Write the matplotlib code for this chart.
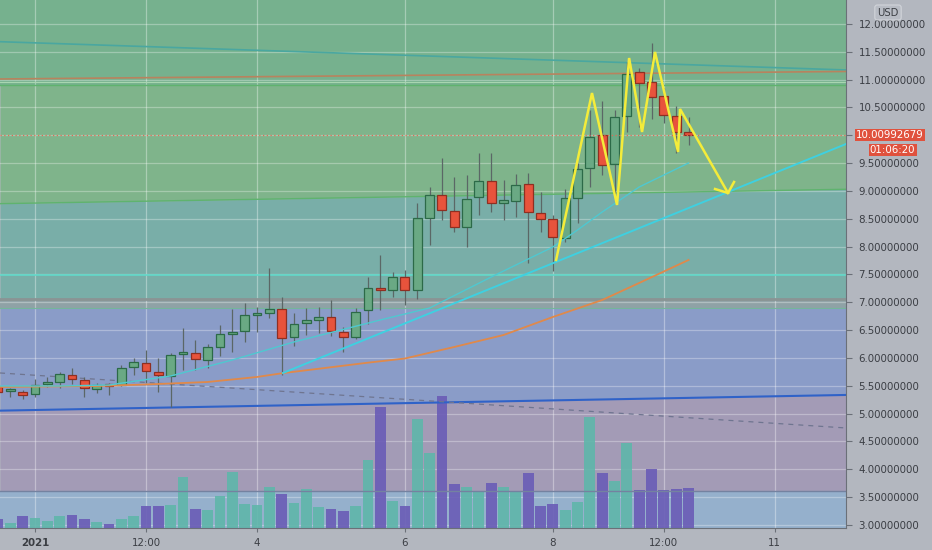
import matplotlib
matplotlib.use("Agg")
import matplotlib.pyplot as plt

# 4h candles, index 0 = 2021-01-01 00:00
idx = list(range(-3, 54))
opens = [5.474, 5.410, 5.389, 5.348, 5.528, 5.575, 5.700, 5.610, 5.443, 5.521,
         5.521, 5.833, 5.916, 5.749, 5.668, 6.065, 6.090, 5.964, 6.192, 6.437,
         6.480, 6.778, 6.803, 6.875, 6.372, 6.629, 6.677, 6.742, 6.473, 6.383,
         6.857, 7.234, 7.222, 7.461, 7.222, 8.510, 8.928, 8.635, 8.348, 8.898,
         9.185, 8.785, 8.820, 9.120, 8.610, 8.497, 8.150, 8.880, 9.413, 10.011,
         9.485, 10.347, 11.132, 10.953, 10.701, 10.342, 10.054]
highs = [5.515, 5.456, 5.425, 5.618, 5.664, 5.754, 5.815, 5.664, 5.546, 5.546,
         5.874, 5.995, 6.144, 5.995, 6.085, 6.534, 6.324, 6.252, 6.593, 6.875,
         6.983, 6.922, 7.611, 7.091, 6.803, 6.893, 6.922, 7.042, 6.562, 6.893,
         7.450, 7.850, 7.540, 7.581, 8.779, 9.077, 9.587, 9.246, 9.287, 9.677,
         9.677, 9.198, 9.305, 9.318, 8.977, 8.569, 9.031, 9.498, 10.455, 10.622,
         10.455, 11.323, 11.204, 11.664, 10.845, 10.527, 10.335]
lows = [5.336, 5.294, 5.258, 5.305, 5.474, 5.456, 5.533, 5.305, 5.377, 5.336,
        5.497, 5.695, 5.557, 5.395, 5.125, 5.785, 5.785, 5.815, 6.042, 6.113,
        6.293, 6.473, 6.713, 5.695, 6.216, 6.413, 6.455, 6.395, 6.113, 6.336,
        6.611, 6.862, 7.091, 6.952, 7.055, 8.030, 8.479, 8.269, 7.989, 8.569,
        8.628, 8.479, 8.528, 7.712, 8.269, 7.554, 8.089, 8.420, 9.077, 9.287,
        8.898, 10.065, 10.155, 10.288, 10.216, 9.677, 9.826]
closes = [5.390, 5.416, 5.336, 5.510, 5.575, 5.713, 5.618, 5.456, 5.510, 5.503,
          5.821, 5.923, 5.761, 5.689, 6.045, 6.075, 5.977, 6.192, 6.431, 6.473,
          6.773, 6.791, 6.875, 6.365, 6.606, 6.683, 6.731, 6.480, 6.372, 6.821,
          7.252, 7.225, 7.450, 7.227, 8.510, 8.928, 8.659, 8.348, 8.851, 9.185,
          8.779, 8.838, 9.102, 8.617, 8.501, 8.165, 8.874, 9.390, 9.965, 9.467,
          10.329, 11.096, 10.935, 10.683, 10.365, 10.065, 10.00992679]
volume = [8.7, 5.3, 12.0, 10.3, 7.3, 12.3, 13.0, 9.3, 6.0, 4.0,
          9.3, 12.3, 22.3, 22.3, 23.0, 51.3, 19.3, 18.0, 32.0, 56.3,
          24.0, 23.3, 40.7, 34.0, 24.7, 39.3, 21.3, 19.0, 17.0, 22.0,
          68.0, 120.7, 27.3, 22.0, 109.0, 75.3, 132.0, 44.3, 41.0, 37.0,
          45.3, 41.0, 36.3, 54.7, 22.0, 24.0, 18.0, 26.0, 111.3, 55.0,
          47.3, 85.3, 37.7, 59.3, 37.7, 39.0, 40.0]
last_price = 10.00992679
countdown = "01:06:20"

# moving averages (read at a few candles)
ma_fast_x = [-3, 2, 6, 11, 16, 21, 28, 32, 37, 42, 44, 46, 49, 53]
ma_fast = [5.497, 5.497, 5.515, 5.677, 5.964, 6.288, 6.683, 6.898, 7.455,
           7.994, 8.300, 8.623, 9.072, 9.503]
ma_slow_x = [-3, 5, 9, 14, 18, 20, 27, 30, 34, 38, 42, 46, 49, 53]
ma_slow = [5.479, 5.497, 5.524, 5.569, 5.659, 5.725, 5.916, 5.991, 6.198,
           6.413, 6.737, 7.042, 7.348, 7.761]

# drawn lines
x_span = [-2.84, 65.77]
top_line = [11.682, 11.174]
brown_line = [11.012, 11.147]
green_slope = [8.772, 9.031]
blue_slope = [5.054, 5.336]
dashed_line = [5.731, 4.743]
trend_x = [20.11, 65.77]
trend_y = [5.731, 9.844]
zig_x = [42.26, 45.17, 47.2, 48.18, 49.23, 50.28, 52.15, 52.31, 56.2]
zig_y = [7.761, 10.76, 8.749, 11.389, 10.060, 11.497, 9.701, 10.473, 8.964]
head_x = [55.15, 56.2, 56.69]
head_y = [9.036, 8.964, 9.162]

tick_pos = [0, 9, 18, 30, 42, 51, 60]
tick_lab = ["2021", "12:00", "4", "6", "8", "12:00", "11"]
price_ticks = [3.0 + 0.5 * i for i in range(19)]

ylo, yhi = 2.946, 12.431
axis_bg = "#b3b7bf"
txt = "#3b3e44"

fig = plt.figure(figsize=(9.32, 5.5), dpi=100, facecolor=axis_bg)
pos = [0, 22 / 550, 846 / 932, 528 / 550]
ax_bg = fig.add_axes(pos, zorder=1)
ax_vol = fig.add_axes(pos, zorder=2, sharex=ax_bg)
ax = fig.add_axes(pos, zorder=3, sharex=ax_bg, sharey=ax_bg)
for a in (ax_vol, ax):
    a.patch.set_visible(False)

# background bands
ax_bg.fill_between(x_span, [10.904] * 2, [yhi] * 2, color="#76b18e", lw=0)
ax_bg.fill_between(x_span, green_slope, [10.904] * 2, color="#7fb48b", lw=0)
ax_bg.fill_between(x_span, [7.055] * 2, green_slope, color="#79aea8", lw=0)
ax_bg.fill_between(x_span, [6.90] * 2, [7.055] * 2, color="#8fa2a6", lw=0)
ax_bg.fill_between(x_span, blue_slope, [6.90] * 2, color="#8a9cc8", lw=0)
ax_bg.fill_between(x_span, [3.611] * 2, blue_slope, color="#a39bb6", lw=0)
ax_bg.fill_between(x_span, [ylo] * 2, [3.611] * 2, color="#95b0cc", lw=0)
ax_bg.set_xlim(*x_span)
ax_bg.set_ylim(ylo, yhi)
ax_bg.axis("off")

# grid
for t in tick_pos:
    ax_bg.axvline(t, color="white", alpha=0.35, lw=0.9)
for v in price_ticks:
    ax_bg.axhline(v, color="white", alpha=0.3, lw=0.9)

# volume
vol_cols = ["#5fb6aa" if c >= o else "#6a5cb6" for o, c in zip(opens, closes)]
ax_vol.bar(idx, volume, width=0.88, color=vol_cols, alpha=0.9, lw=0)
ax_vol.set_ylim(0, 528)
ax_vol.axis("off")

# horizontal / sloping level lines
ax.plot(x_span, top_line, color="#4aa7a0", lw=1.2)
ax.plot(x_span, brown_line, color="#b8835e", lw=1.2)
ax.axhline(10.963, color="#a8d6b0", lw=0.8)
ax.axhline(10.904, color="#5fb36e", lw=1.0)
ax.plot(x_span, green_slope, color="#5fb36e", lw=1.0)
ax.axhline(7.491, color="#5fd8c8", lw=1.2)
ax.axhline(7.055, color="#8a9494", lw=2.0)
ax.axhline(6.90, color="#74b59c", lw=0.8)
ax.plot(x_span, blue_slope, color="#2f62c8", lw=1.5)
ax.axhline(3.611, color="#7482a0", lw=1.0)
ax.plot(x_span, dashed_line, color="#6f7590", lw=0.9, ls=(0, (4, 4)))

# candles
up = [c >= o for o, c in zip(opens, closes)]
bottoms = [min(o, c) for o, c in zip(opens, closes)]
heights = [max(abs(c - o), 0.035) for o, c in zip(opens, closes)]
ax.vlines(idx, lows, highs, color="#5b6766", lw=0.9, zorder=3)
ax.bar(idx, heights, bottom=bottoms, width=0.72,
       color=["#6aa984" if u else "#e8533c" for u in up],
       edgecolor=["#2c6a48" if u else "#8f2f22" for u in up],
       lw=0.9, zorder=4)

# moving averages and trend line
ax.plot(ma_slow_x, ma_slow, color="#e0894a", lw=1.3, zorder=5)
ax.plot(ma_fast_x, ma_fast, color="#4fc8d0", lw=1.0, zorder=5)
ax.plot(trend_x, trend_y, color="#3fd0e0", lw=1.4, zorder=5)

# yellow drawing
ax.plot(zig_x, zig_y, color="#f4ec3a", lw=1.8, zorder=6, solid_joinstyle="miter")
ax.plot(head_x, head_y, color="#f4ec3a", lw=1.8, zorder=6)

# last price line
ax.axhline(last_price, color="#e06a55", lw=0.9, ls=(0, (1, 2)), zorder=5)

ax.set_xlim(*x_span)
ax.set_ylim(ylo, yhi)
for s in ("top", "left"):
    ax.spines[s].set_visible(False)
ax.spines["right"].set_color("#6b7078")
ax.spines["bottom"].set_color("#6b7078")
ax.yaxis.tick_right()
ax.set_yticks(price_ticks)
# the 10.0 label sits under the last-price tag, as in the original
ax.set_yticklabels(["" if v == 10.0 else f"{v:.8f}" for v in price_ticks])
ax.tick_params(axis="y", length=4, pad=5, colors=txt, labelsize=7.4, color="#6b7078")
ax.set_xticks(tick_pos)
ax.set_xticklabels(tick_lab)
ax.tick_params(axis="x", length=3, pad=4, colors=txt, labelsize=7.4, color="#6b7078")
ax.get_xticklabels()[0].set_fontweight("bold")

# price tags
red = "#e0513d"
ytr = ax.get_yaxis_transform()
ax.text(1.012, last_price, f"{last_price:.8f}", transform=ytr,
        ha="left", va="center", color="white", fontsize=7.4, clip_on=False,
        bbox=dict(boxstyle="square,pad=0.12", fc=red, ec="none"), zorder=10)
ax.text(1.082, last_price - 0.27, countdown, transform=ytr,
        ha="right", va="center", color="white", fontsize=7.4, clip_on=False,
        bbox=dict(boxstyle="square,pad=0.12", fc=red, ec="none"), zorder=10)
fig.text(888 / 932, 1 - 12.5 / 550, "USD", ha="center", va="center",
         color=txt, fontsize=7.2,
         bbox=dict(boxstyle="round,pad=0.25", fc="#b8bcc4", ec="#d2d5da", lw=0.8))

fig.savefig("out.png", dpi=100, facecolor=axis_bg)
